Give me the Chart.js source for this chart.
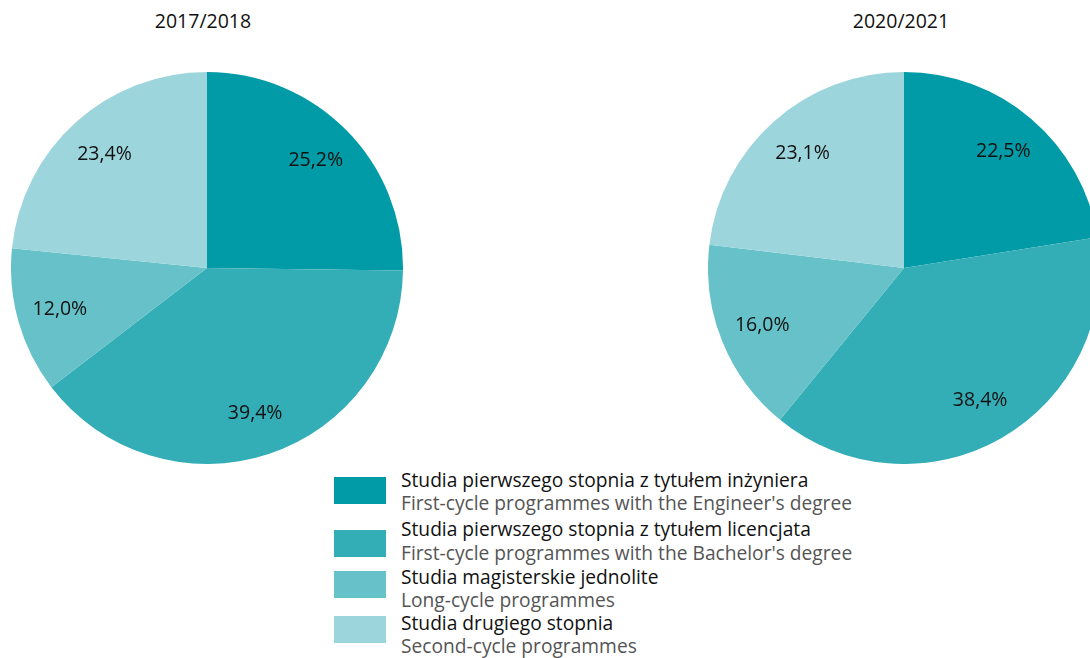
<!DOCTYPE html>
<html>
<head>
<meta charset="utf-8">
<script src="https://cdn.jsdelivr.net/npm/chart.js@4"></script>
<style>
  html, body { margin: 0; padding: 0; background: #fff; width: 1090px; height: 658px; overflow: hidden; position: relative; font-family: "Open Sans", "Noto Sans", sans-serif; }
  canvas { position: absolute; }
  .title { position: absolute; top: 7px; width: 200px; text-align: center; font-size: 19.5px; color: #111; }
  #legend { position: absolute; left: 334px; top: 465px; width: 740px; }
  .box { position: absolute; left: 0; width: 52px; height: 27px; }
  .pl, .en { position: absolute; left: 67px; font-size: 19.2px; line-height: 22px; white-space: nowrap; }
  .pl { color: #111; }
  .en { color: #555; }
</style>
</head>
<body>
<div class="title" id="t1" style="left:103px"></div>
<div class="title" id="t2" style="left:801px"></div>
<canvas id="c1" width="392" height="392" style="left:11px; top:72px"></canvas>
<canvas id="c2" width="392" height="392" style="left:708px; top:72px"></canvas>
<div id="legend"></div>
<script>
const years = ["2017/2018", "2020/2021"];
const categoriesPL = [
  "Studia pierwszego stopnia z tytułem inżyniera",
  "Studia pierwszego stopnia z tytułem licencjata",
  "Studia magisterskie jednolite",
  "Studia drugiego stopnia"
];
const categoriesEN = [
  "First-cycle programmes with the Engineer's degree",
  "First-cycle programmes with the Bachelor's degree",
  "Long-cycle programmes",
  "Second-cycle programmes"
];
const values2017 = [25.2, 39.4, 12.0, 23.4];
const values2020 = [22.5, 38.4, 16.0, 23.1];
const colors = ["#009ba6", "#33adb6", "#66c2c8", "#9dd5dc"];

document.getElementById("t1").textContent = years[0];
document.getElementById("t2").textContent = years[1];

// legend
const legendTops = [[0, 1, 24], [53, 50, 74], [94, 98, 121], [139, 144, 167]];
const lg = document.getElementById("legend");
categoriesPL.forEach((c, i) => {
  const [boxTop, plTop, enTop] = legendTops[i];
  const b = document.createElement("div"); b.className = "box"; b.style.top = (boxTop + 12) + "px"; b.style.background = colors[i]; lg.appendChild(b);
  const p = document.createElement("div"); p.className = "pl"; p.style.top = (plTop + 3) + "px"; p.textContent = c; lg.appendChild(p);
  const e = document.createElement("div"); e.className = "en"; e.style.top = (enTop + 3) + "px"; e.textContent = categoriesEN[i]; lg.appendChild(e);
});

const labelPlugin = {
  id: "pctLabels",
  afterDatasetsDraw(chart) {
    const ctx = chart.ctx;
    const meta = chart.getDatasetMeta(0);
    const data = chart.data.datasets[0].data;
    ctx.save();
    ctx.font = '19.5px "Open Sans", "Noto Sans", sans-serif';
    ctx.fillStyle = "#111";
    ctx.textAlign = "center";
    ctx.textBaseline = "middle";
    meta.data.forEach((arc, i) => {
      const p = arc.getProps(["x", "y", "startAngle", "endAngle", "outerRadius"], true);
      const mid = (p.startAngle + p.endAngle) / 2;
      const r = p.outerRadius * 0.78;
      const txt = data[i].toFixed(1).replace(".", ",") + "%";
      ctx.fillText(txt, p.x + Math.cos(mid) * r, p.y + Math.sin(mid) * r);
    });
    ctx.restore();
  }
};

function makePie(id, vals) {
  new Chart(document.getElementById(id), {
    type: "pie",
    data: {
      labels: categoriesPL,
      datasets: [{ data: vals, backgroundColor: colors, borderWidth: 0 }]
    },
    options: {
      responsive: false,
      animation: false,
      devicePixelRatio: 1,
      layout: { padding: 0 },
      plugins: { legend: { display: false }, tooltip: { enabled: false } }
    },
    plugins: [labelPlugin]
  });
}
makePie("c1", values2017);
makePie("c2", values2020);
</script>
</body>
</html>
